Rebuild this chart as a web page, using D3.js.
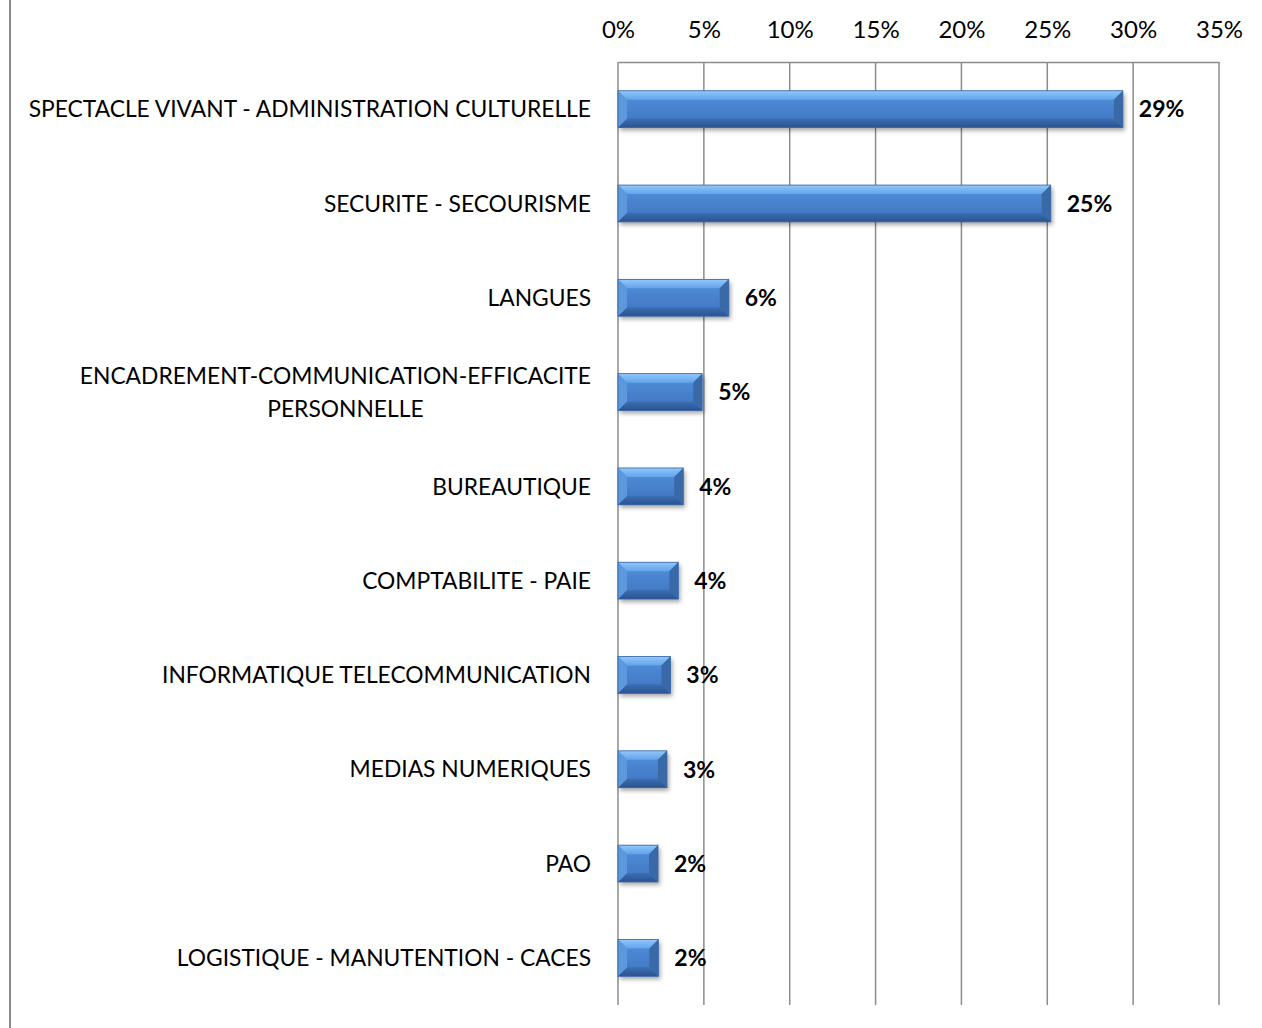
<!DOCTYPE html>
<html>
<head>
<meta charset="utf-8">
<script src="https://cdn.jsdelivr.net/npm/d3@7"></script>
<style>
  html, body { margin: 0; padding: 0; background: #fff; }
  svg { display: block; }
</style>
</head>
<body>
<svg id="chart" width="1262" height="1028"></svg>
<script>
// ---- data ----
const categories = [
  "SPECTACLE VIVANT - ADMINISTRATION CULTURELLE",
  "SECURITE - SECOURISME",
  "LANGUES",
  "ENCADREMENT-COMMUNICATION-EFFICACITE PERSONNELLE",
  "BUREAUTIQUE",
  "COMPTABILITE - PAIE",
  "INFORMATIQUE TELECOMMUNICATION",
  "MEDIAS NUMERIQUES",
  "PAO",
  "LOGISTIQUE - MANUTENTION - CACES"
];
const categoryLines = [
  ["SPECTACLE VIVANT - ADMINISTRATION CULTURELLE"],
  ["SECURITE - SECOURISME"],
  ["LANGUES"],
  ["ENCADREMENT-COMMUNICATION-EFFICACITE", "PERSONNELLE"],
  ["BUREAUTIQUE"],
  ["COMPTABILITE - PAIE"],
  ["INFORMATIQUE TELECOMMUNICATION"],
  ["MEDIAS NUMERIQUES"],
  ["PAO"],
  ["LOGISTIQUE - MANUTENTION - CACES"]
];
const values = [0.294, 0.252, 0.0645, 0.049, 0.038, 0.0351, 0.0305, 0.0285, 0.0233, 0.0235];
const tickValues = [0, 0.05, 0.10, 0.15, 0.20, 0.25, 0.30, 0.35];

// ---- layout ----
const svg = d3.select("#chart");
const FONT = "Lato, 'Open Sans', sans-serif";
const x = d3.scaleLinear().domain([0, 0.35]).range([618, 1219]);
const y = d3.scaleBand().domain(categories).range([62, 1005]).paddingInner(0.61).paddingOuter(0.305);
const pct = d3.format(".0%");

// chart area left border
svg.append("line").attr("x1", 10).attr("x2", 10).attr("y1", 0).attr("y2", 1028)
  .attr("stroke", "#8a8a8a").attr("stroke-width", 2);

// defs
const defs = svg.append("defs");
const g1 = defs.append("linearGradient").attr("id", "body").attr("x1", 0).attr("x2", 0).attr("y1", 0).attr("y2", 1);
[["0%", "#5e9ce6"], ["20%", "#4f8bd6"], ["55%", "#4780cc"], ["100%", "#3f74bd"]]
  .forEach(([o, c]) => g1.append("stop").attr("offset", o).attr("stop-color", c));
const gt = defs.append("linearGradient").attr("id", "topbev").attr("x1", 0).attr("x2", 0).attr("y1", 0).attr("y2", 1);
[["0%", "#92c8fa"], ["100%", "#62a3ea"]].forEach(([o, c]) => gt.append("stop").attr("offset", o).attr("stop-color", c));
const gb = defs.append("linearGradient").attr("id", "botbev").attr("x1", 0).attr("x2", 0).attr("y1", 0).attr("y2", 1);
[["0%", "#3c6fb4"], ["100%", "#2a5290"]].forEach(([o, c]) => gb.append("stop").attr("offset", o).attr("stop-color", c));
const f = defs.append("filter").attr("id", "shadow").attr("x", "-10%").attr("y", "-30%").attr("width", "130%").attr("height", "180%");
f.append("feDropShadow").attr("dx", 2).attr("dy", 3).attr("stdDeviation", 2.2)
  .attr("flood-color", "#000").attr("flood-opacity", 0.35);

// gridlines
const grid = svg.append("g");
grid.selectAll("line").data(tickValues).join("line")
  .attr("x1", d => x(d)).attr("x2", d => x(d))
  .attr("y1", 62).attr("y2", 1005)
  .attr("stroke", "#8c8c8c").attr("stroke-width", 1.5);

// top axis
const axis = svg.append("g").attr("transform", "translate(0,62)")
  .call(d3.axisTop(x).tickValues(tickValues).tickFormat(pct).tickSize(0).tickPadding(24));
axis.select(".domain").attr("stroke", "#8c8c8c").attr("stroke-width", 1.5);
axis.selectAll("text").attr("font-family", FONT).attr("font-size", 24).attr("fill", "#000");

// bars
const bw = y.bandwidth();
const bars = svg.append("g").selectAll("g.bar").data(categories).join("g").attr("class", "bar");
bars.each(function(c, i) {
  const g = d3.select(this);
  const x0 = x(0), x1 = x(values[i]), y0 = y(c), y1 = y(c) + bw;
  const b = Math.min(9, (x1 - x0) / 4, bw / 4);
  g.append("rect").attr("x", x0).attr("y", y0).attr("width", x1 - x0).attr("height", bw)
    .attr("fill", "url(#body)").attr("filter", "url(#shadow)");
  g.append("polygon").attr("points", [[x0, y0], [x1, y0], [x1 - b, y0 + b], [x0 + b, y0 + b]].join(" "))
    .attr("fill", "url(#topbev)");
  g.append("polygon").attr("points", [[x0, y1], [x1, y1], [x1 - b, y1 - b], [x0 + b, y1 - b]].join(" "))
    .attr("fill", "url(#botbev)");
  g.append("polygon").attr("points", [[x0, y0], [x0 + b, y0 + b], [x0 + b, y1 - b], [x0, y1]].join(" "))
    .attr("fill", "#5d98dd");
  g.append("polygon").attr("points", [[x1, y0], [x1 - b, y0 + b], [x1 - b, y1 - b], [x1, y1]].join(" "))
    .attr("fill", "#3a69a8");
  g.append("rect").attr("x", x0).attr("y", y0).attr("width", x1 - x0).attr("height", bw)
    .attr("fill", "none").attr("stroke", "#3565a5").attr("stroke-width", 0.8);
});

// value labels
svg.append("g").selectAll("text").data(categories).join("text")
  .attr("x", (c, i) => x(values[i]) + 16)
  .attr("y", c => y(c) + bw / 2)
  .attr("dy", "0.36em")
  .attr("font-family", FONT).attr("font-weight", "bold").attr("font-size", 23).attr("fill", "#000")
  .text((c, i) => pct(values[i]));

// category labels
const CAT_SIZE = 22.8;
const catG = svg.append("g");
categoryLines.forEach((lines, i) => {
  const cy = y(categories[i]) + bw / 2;
  const t = catG.append("text").attr("font-family", FONT).attr("font-size", CAT_SIZE).attr("fill", "#000");
  if (lines.length === 1) {
    t.attr("x", 591).attr("y", cy).attr("dy", "0.36em").attr("text-anchor", "end").text(lines[0]);
  } else {
    t.attr("x", 591).attr("y", cy - 16.5).attr("dy", "0.36em").attr("text-anchor", "end").text(lines[0]);
    const w = t.node().getComputedTextLength();
    catG.append("text").attr("font-family", FONT).attr("font-size", CAT_SIZE).attr("fill", "#000")
      .attr("x", 591 - w / 2 + 10).attr("y", cy + 16.5).attr("dy", "0.36em").attr("text-anchor", "middle").text(lines[1]);
  }
});
</script>
</body>
</html>
